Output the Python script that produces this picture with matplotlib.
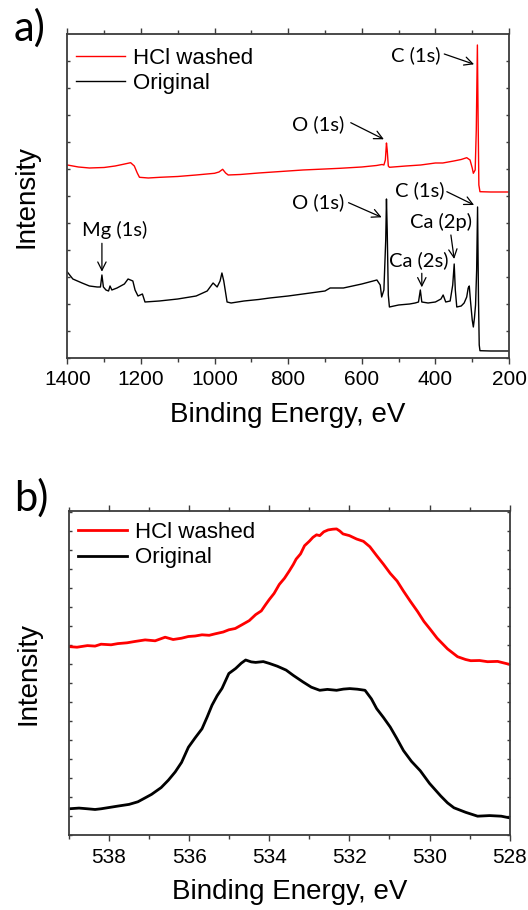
"""
XPS spectra: survey (a) and O 1s region (b)
"""

import matplotlib.pyplot as plt
from matplotlib.ticker import MultipleLocator


# ======================================================
# DATA (arbitrary intensity units)
# ======================================================

# survey, HCl washed
survey_red_be = [1400, 1370, 1340, 1300, 1270, 1248, 1228, 1218, 1210, 1204,
                 1180, 1148, 1100, 1050, 1000, 988, 978, 970, 963, 930,
                 880, 820, 760, 700, 659, 600, 560, 545, 540, 536,
                 533, 531, 528, 525, 480, 440, 400, 380, 350, 330,
                 315, 306, 300, 297, 292, 289, 286, 284, 282, 279,
                 250, 200]
survey_red_int = [193, 191, 190, 190.5, 192, 193.7, 195.3, 192, 185, 180.7,
                  180, 180.7, 181.5, 183, 184.7, 186, 188.7, 185, 183, 183.5,
                  185, 186.5, 188, 189, 189.7, 191, 192.5, 193.5, 193, 198,
                  215, 208, 192, 190.7, 192, 193, 195, 195, 197, 198.5,
                  200.3, 198, 190, 184.7, 188, 228, 313, 238, 173, 166.3,
                  166, 166]

# survey, original
survey_blk_be = [1400, 1385, 1360, 1340, 1319, 1310, 1306, 1302, 1295, 1288,
                 1284, 1279, 1265, 1245, 1235, 1222, 1216, 1208, 1202, 1196,
                 1189, 1150, 1100, 1050, 1020, 1004, 993, 985, 980, 975,
                 966, 955, 920, 880, 850, 800, 750, 700, 686, 650,
                 600, 559, 550, 546, 540, 535, 533, 531, 528, 525,
                 500, 470, 455, 446, 441, 437, 420, 400, 385, 379,
                 372, 360, 353, 349, 346, 342, 330, 322, 315, 311,
                 308, 305, 300, 297, 294, 291, 288, 285.5, 283, 281,
                 279, 250, 200]
survey_blk_int = [86, 79, 75, 72, 71, 71, 83, 71, 68, 67,
                  72, 68, 70, 74, 79, 77, 68, 62, 63, 64,
                  56, 57, 59, 62, 67, 75, 71, 77, 85, 77,
                  56, 55, 57, 58.5, 60, 62, 64.5, 67, 70, 70,
                  74, 78, 73, 61, 68, 118, 159, 128, 63, 51,
                  53, 54, 55, 56, 68, 56, 55, 56, 59, 63,
                  56, 57, 73, 94, 68, 51, 52, 55, 61, 70,
                  72, 58, 38, 31, 40, 53, 88, 151, 58, 13,
                  7.3, 7, 7]

# O 1s, HCl washed
o1s_red_be = [539.0, 538.8, 538.54, 538.35, 538.2, 537.95, 537.78, 537.55, 537.36, 537.1,
              536.85, 536.6, 536.4, 536.19, 536.02, 535.85, 535.68, 535.5, 535.35, 535.15,
              535.01, 534.85, 534.68, 534.5, 534.34, 534.2, 534.09, 534.0, 533.88, 533.75,
              533.62, 533.5, 533.4, 533.33, 533.22, 533.12, 533.0, 532.91, 532.82, 532.74,
              532.64, 532.53, 532.42, 532.32, 532.24, 532.16, 532.0, 531.82, 531.65, 531.49,
              531.32, 531.15, 530.98, 530.81, 530.65, 530.48, 530.3, 530.14, 529.98, 529.81,
              529.55, 529.3, 529.1, 528.97, 528.75, 528.55, 528.3, 528.0]
o1s_red_int = [188.8, 188.2, 189.8, 189.3, 191.2, 190.6, 191.8, 192.6, 193.9, 195.5,
               194.6, 198.2, 195.9, 197.2, 198.9, 199.4, 200.6, 200.1, 201.6, 203.4,
               205.6, 206.9, 210.7, 214.8, 220.8, 224.5, 230.9, 235.9, 242.0, 251.0,
               257.2, 264.5, 271.0, 276.3, 281.5, 289.7, 294.2, 298.1, 300.6, 299.8,
               303.6, 305.5, 306.2, 306.5, 304.4, 301.5, 299.8, 296.4, 294.1, 288.7,
               279.8, 271.2, 262.0, 254.4, 244.3, 234.2, 224.0, 214.0, 206.0, 197.2,
               186.5, 178.7, 175.9, 174.7, 174.9, 173.7, 174.0, 171.0]

# O 1s, original
o1s_blk_be = [539.0, 538.75, 538.54, 538.35, 538.2, 537.95, 537.78, 537.5, 537.28, 537.1,
              536.94, 536.7, 536.52, 536.35, 536.19, 536.02, 535.85, 535.68, 535.55, 535.43,
              535.3, 535.18, 535.01, 534.84, 534.7, 534.59, 534.45, 534.34, 534.15, 534.0,
              533.8, 533.58, 533.4, 533.16, 532.95, 532.74, 532.55, 532.32, 532.15, 531.99,
              531.8, 531.61, 531.45, 531.32, 531.15, 530.98, 530.82, 530.65, 530.45, 530.23,
              530.0, 529.72, 529.55, 529.39, 529.1, 528.8, 528.5, 528.21, 528.0]
o1s_blk_int = [26.6, 27.3, 26.6, 25.9, 26.6, 28.2, 29.3, 31.0, 33.6, 37.5,
               41.0, 47.8, 55.2, 63.4, 73.0, 88.1, 97.6, 106.6, 118.5, 130.2,
               139.8, 147.0, 161.9, 166.9, 172.2, 175.4, 173.5, 173.0, 173.8, 172.0,
               169.2, 165.3, 160.0, 153.5, 148.2, 145.1, 146.0, 145.1, 146.3, 146.8,
               146.2, 145.1, 136.5, 126.8, 117.9, 108.3, 97.2, 84.8, 74.0, 64.6,
               52.0, 39.4, 32.5, 27.6, 23.1, 19.2, 19.8, 19.2, 17.5]

series_labels = ["HCl washed", "Original"]

# peak labels: (text, text pos, arrow tail, arrow head)
survey_notes = [
    ("C (1s)", (453, 303), (376, 304), (295, 293.7)),
    ("O (1s)", (718, 233.5), (630, 235.3), (540, 218.7)),
    ("O (1s)", (718, 156), (636, 155.3), (546, 140.7)),
    ("C (1s)", (442, 168), (369, 166.3), (295, 153)),
    ("Ca (2p)", (386, 136.3), (358, 123), (349, 99)),
    ("Ca (2s)", (445, 98), (437, 84.7), (437, 70.7)),
    ("Mg (1s)", (1272, 128), (1306, 114.7), (1306, 86.3)),
]


# ======================================================
# FIGURE
# ======================================================

plt.rcParams["font.family"] = ["Liberation Sans", "DejaVu Sans"]
note_font = ["Lato", "DejaVu Sans"]
spine_col = "#3c3c3c"

fig = plt.figure(figsize=(5.28, 9.10), dpi=100)
ax_a = fig.add_axes([0.1275, 0.6066, 0.8366, 0.3555])
ax_b = fig.add_axes([0.1307, 0.0820, 0.8345, 0.3560])


def style_axes(ax, ymajor):
    for s in ax.spines.values():
        s.set_color(spine_col)
        s.set_linewidth(1.3)
    ax.tick_params(axis="x", which="both", bottom=True, top=True, direction="out",
                   labelsize=15, pad=5, color=spine_col, width=1.0)
    ax.tick_params(axis="x", which="major", length=4)
    ax.tick_params(axis="x", which="minor", length=3)
    ax.tick_params(axis="y", which="both", left=True, right=True, direction="in",
                   length=2, labelleft=False, color=spine_col, width=1.0)
    ax.yaxis.set_major_locator(MultipleLocator(ymajor))
    ax.set_ylabel("Intensity", fontsize=20, labelpad=20)
    ax.set_xlabel("Binding Energy, eV", fontsize=20, labelpad=9)


# ------------------------------------------------------
# a) survey
# ------------------------------------------------------
ax_a.plot(survey_red_be, survey_red_int, color="#ff0000", lw=1.0, label=series_labels[0])
ax_a.plot(survey_blk_be, survey_blk_int, color="black", lw=1.0, label=series_labels[1])
ax_a.set_xlim(1400, 200)
ax_a.set_ylim(0, 323.5)
ax_a.xaxis.set_major_locator(MultipleLocator(200))
ax_a.xaxis.set_minor_locator(MultipleLocator(100))
style_axes(ax_a, 27)

for txt, tpos, tail, head in survey_notes:
    ax_a.text(tpos[0], tpos[1], txt, fontsize=14.5, family=note_font,
              ha="center", va="center")
    ax_a.annotate("", xy=head, xytext=tail,
                  arrowprops=dict(arrowstyle="->,head_length=0.6,head_width=0.3",
                                  lw=0.9, color="black", shrinkA=0, shrinkB=0))

ax_a.legend(loc="upper left", bbox_to_anchor=(0.0, 0.985), frameon=False,
            fontsize=16, handlelength=2.2, handletextpad=0.35,
            labelspacing=0.15, borderaxespad=0.2, borderpad=0.2)

# ------------------------------------------------------
# b) O 1s
# ------------------------------------------------------
ax_b.plot(o1s_red_be, o1s_red_int, color="#ff0000", lw=2.0, label=series_labels[0])
ax_b.plot(o1s_blk_be, o1s_blk_int, color="black", lw=2.0, label=series_labels[1])
ax_b.set_xlim(539, 528)
ax_b.set_ylim(0, 324)
ax_b.xaxis.set_major_locator(MultipleLocator(2))
ax_b.xaxis.set_minor_locator(MultipleLocator(1))
style_axes(ax_b, 19)

ax_b.legend(loc="upper left", bbox_to_anchor=(0.0, 0.995), frameon=False,
            fontsize=16, handlelength=2.2, handletextpad=0.35,
            labelspacing=0.2, borderaxespad=0.2, borderpad=0.2)

fig.text(14 / 528, 1 - 28 / 910, "a)", fontsize=30, family=note_font,
         ha="left", va="center")
fig.text(14 / 528, 1 - 498 / 910, "b)", fontsize=30, family=note_font,
         ha="left", va="center")

fig.savefig("out.png", dpi=100)
plt.close(fig)
